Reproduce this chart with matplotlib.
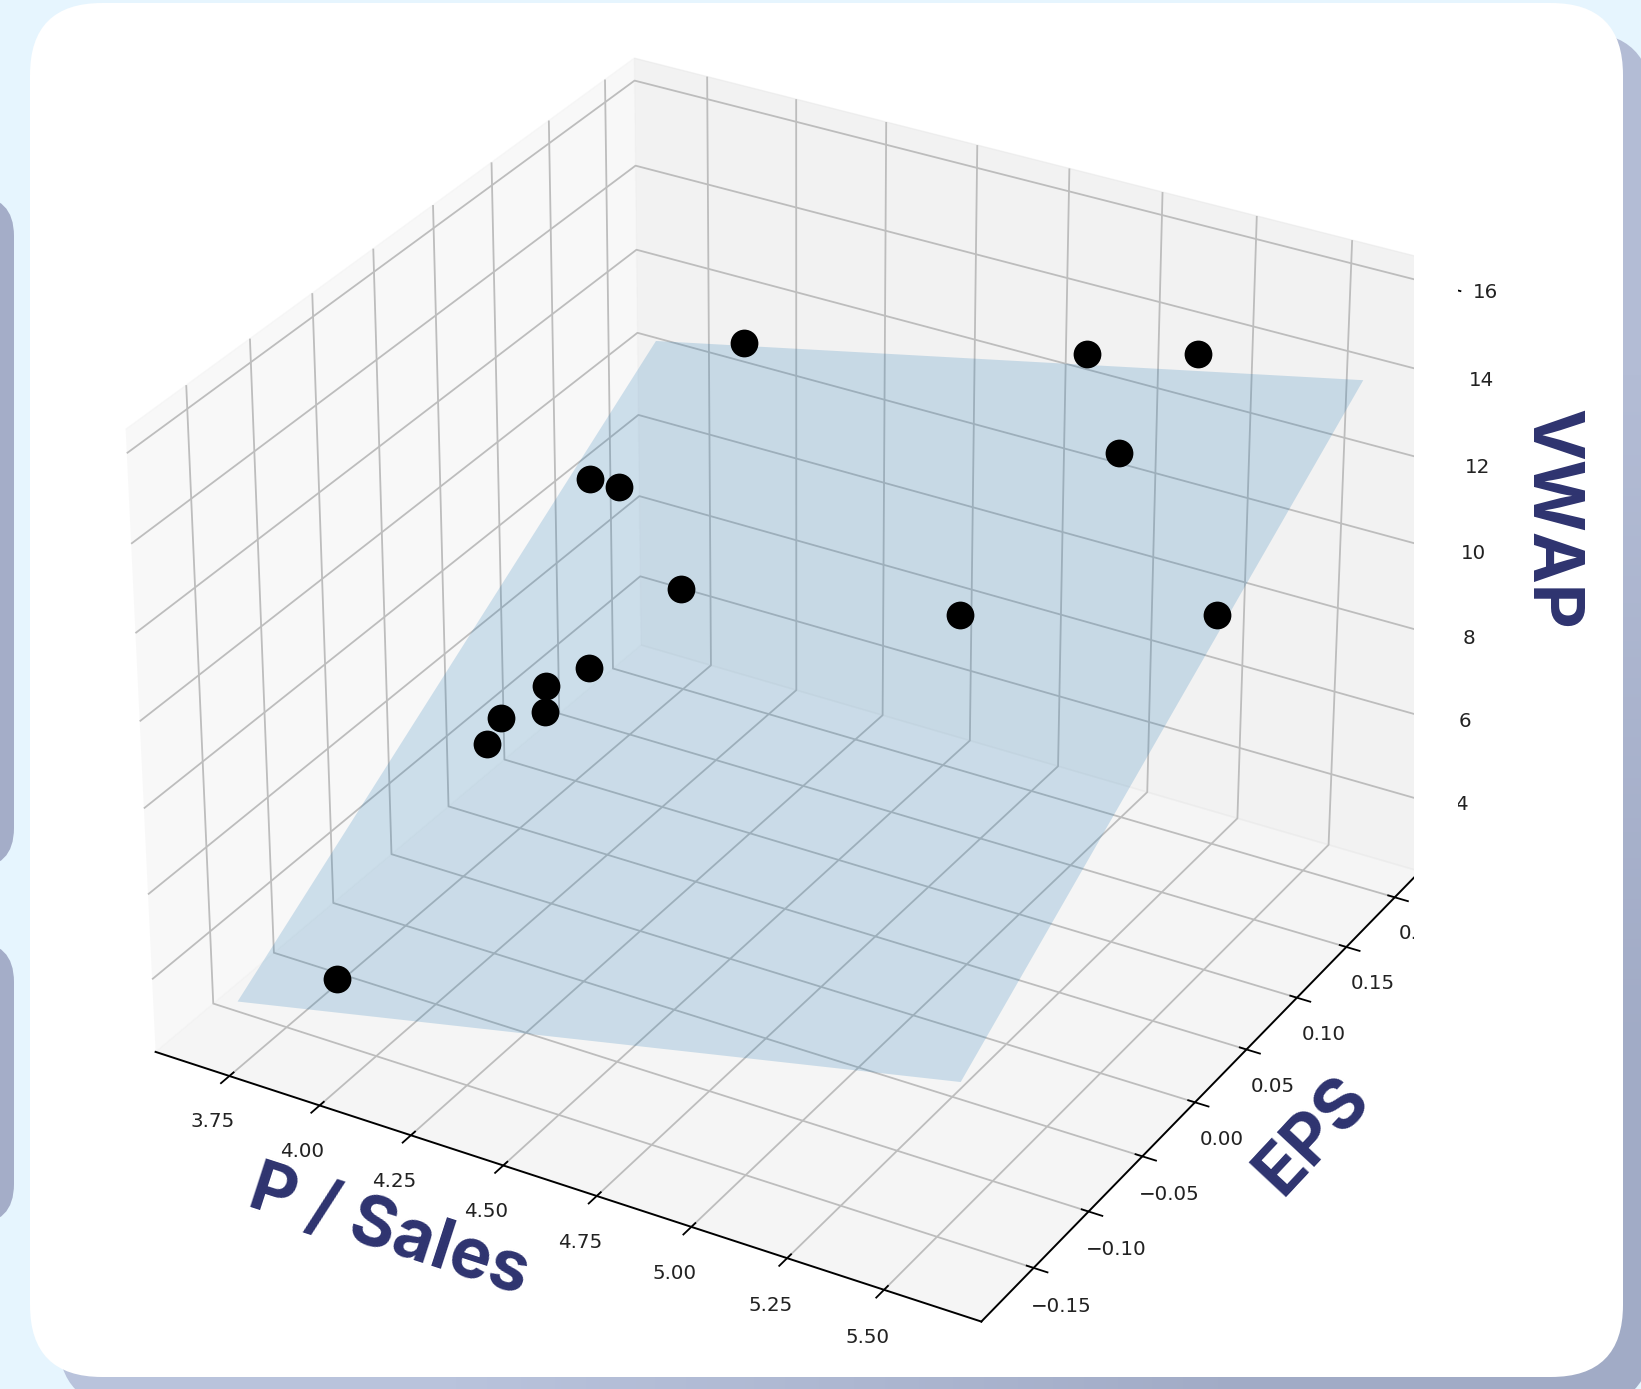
#!/usr/bin/env python3
"""3D regression plane of VWAP against P / Sales and EPS, on a rounded card."""

import numpy as np
import matplotlib
matplotlib.use('Agg')
import matplotlib.pyplot as plt
from matplotlib.patches import FancyBboxPatch, Rectangle

W, H = 1641, 1389

# Observations
p_sales = [3.934, 4.883, 5.179, 5.099, 3.740, 3.832, 4.171, 4.939, 5.582, 4.058, 3.972, 4.015, 3.907, 3.914, 3.908]
eps = [0.199, 0.199, 0.199, 0.153, 0.120, 0.117, 0.064, 0.061, 0.071, 0.018, 0.007, -0.007, -0.012, -0.026, -0.153]
vwap = [11.19, 13.10, 13.77, 12.27, 9.15, 9.25, 8.79, 10.12, 11.49, 7.66, 7.27, 7.07, 6.78, 6.50, 3.92]

# Fitted plane, corner values
plane_x = [3.682, 5.610]
plane_y = [-0.169, 0.1995]
plane_z = [[3.169, 6.642], [10.668, 14.141]]

x_ticks = [3.75, 4.00, 4.25, 4.50, 4.75, 5.00, 5.25, 5.50]
y_ticks = [-0.15, -0.10, -0.05, 0.00, 0.05, 0.10, 0.15, 0.20]
z_ticks = [4, 6, 8, 10, 12, 14, 16]

PAGE = '#E6F5FE'
SIDE = '#A4ADC8'
NAVY = '#2E336F'
TICK = '#222222'


def rounded(x0, y0, x1, y1, r, **kw):
    return FancyBboxPatch((x0 + r, y0 + r), x1 - x0 - 2 * r, y1 - y0 - 2 * r,
                          boxstyle=f'round,pad={r},rounding_size={r}', **kw)


def label(x, y, text, rotation):
    fig.text(x / W, 1 - y / H, text, fontsize=50, fontweight='bold', color=NAVY,
             family=['Inter', 'DejaVu Sans'], ha='center', va='center',
             rotation=rotation, rotation_mode='anchor', zorder=6)


plt.rcParams['grid.linewidth'] = 1.3
plt.rcParams['grid.color'] = '#bdbdbd'
plt.rcParams['axes.linewidth'] = 1.4
plt.rcParams['xtick.major.width'] = 1.3
plt.rcParams['ytick.major.width'] = 1.3

fig = plt.figure(figsize=(W / 100, H / 100), dpi=100, facecolor=PAGE)

# Page background: side cards, shadow, white card
bg = fig.add_axes([0, 0, 1, 1], zorder=0)
bg.axis('off')
bg.add_patch(rounded(-80, 196, 14, 868, 40, fc=SIDE, ec='none'))
bg.add_patch(rounded(-80, 942, 14, 1224, 40, fc=SIDE, ec='none'))

shade = np.array([[[191, 200, 224], [179, 188, 213]],
                  [[185, 195, 220], [161, 171, 198]]], dtype=np.uint8)
shadow = rounded(58, 32, 1652, 1408, 72, fc='none', ec='none')
bg.add_patch(shadow)
img = bg.imshow(shade, extent=[58, 1652, 1408, 32], interpolation='bilinear', aspect='auto')
img.set_clip_path(shadow)
bg.add_patch(rounded(30, 3, 1623, 1377, 72, fc='white', ec='none', zorder=3))
bg.set_xlim(0, W)
bg.set_ylim(H, 0)

# 3D chart
left, top, side = 44.6, -55.65, 1470
ax = fig.add_axes([left / W, (H - top - side) / H, side / W, side / H],
                  projection='3d', computed_zorder=False, zorder=1)
ax.patch.set_visible(False)

grid_x, grid_y = np.meshgrid(plane_x, plane_y)
ax.plot_surface(grid_x, grid_y, np.array(plane_z), color='C0', alpha=0.2, shade=False,
                linewidth=0, antialiased=True, zorder=1)
ax.scatter(p_sales, eps, vwap, color='black', s=400, depthshade=False, linewidths=0, zorder=2)

ax.set_xlim(3.5433, 5.7479, view_margin=0)
ax.set_ylim(-0.1966, 0.2265, view_margin=0)
ax.set_zlim(2.2696, 16.5236, view_margin=0)
ax.set_xticks(x_ticks)
ax.set_yticks(y_ticks)
ax.set_zticks(z_ticks)
ax.tick_params(axis='x', labelsize=14.3, labelcolor=TICK, pad=11)
ax.tick_params(axis='y', labelsize=14.3, labelcolor=TICK, pad=10)
ax.tick_params(axis='z', labelsize=14.3, labelcolor=TICK, pad=9)

# The chart image is cropped on its right side, just short of the z labels
fig.add_artist(Rectangle((1414 / W, 1 - 965 / H), 44 / W, 765 / H, transform=fig.transFigure,
                         fc='white', ec='none', zorder=5))

label(389, 1233, 'P / Sales', -18)
label(1314, 1137, 'EPS', 47)
label(1550, 519, 'VWAP', -90)

fig.savefig('out.png', dpi=100, facecolor=PAGE)
